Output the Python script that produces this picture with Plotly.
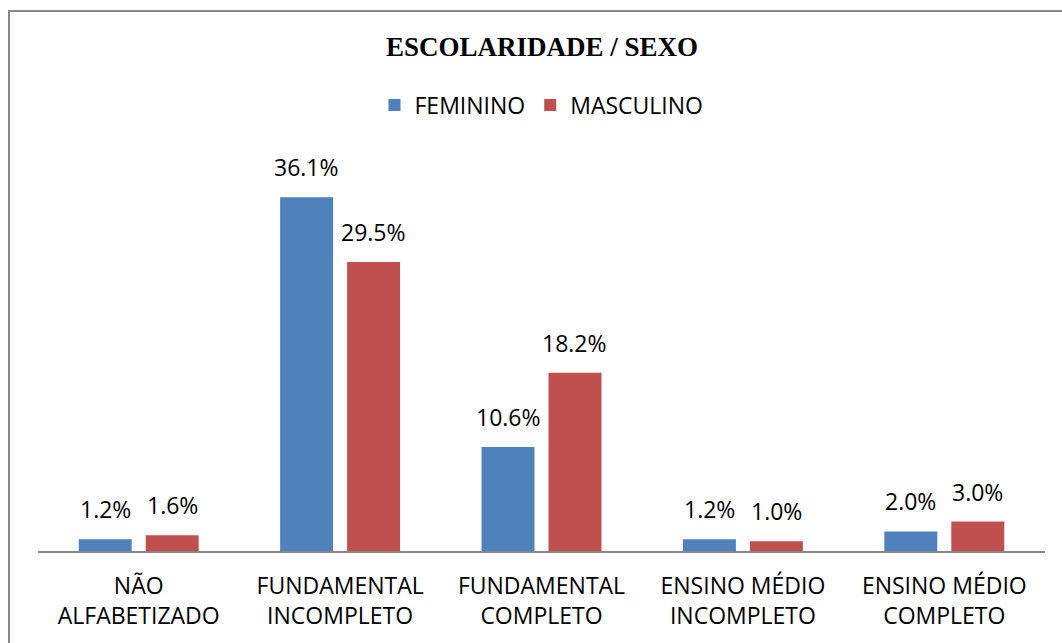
import plotly.graph_objects as go

categories = ["NÃO<br>ALFABETIZADO", "FUNDAMENTAL<br>INCOMPLETO", "FUNDAMENTAL<br>COMPLETO",
              "ENSINO MÉDIO<br>INCOMPLETO", "ENSINO MÉDIO<br>COMPLETO"]
feminino = [1.2, 36.1, 10.6, 1.2, 2.0]
masculino = [1.6, 29.5, 18.2, 1.0, 3.0]

W, H = 1062, 643
L, R, T, B = 38, 17, 159, 92
pw, ph = W - L - R, H - T - B
BARGAP, GROUPGAP = 0.335, 0.209
slot = (1 - BARGAP) * pw / len(categories) / 2

FONT = "Open Sans, Liberation Sans, sans-serif"

fig = go.Figure()
fig.add_trace(go.Bar(name="FEMININO", x=categories, y=feminino, marker_color="#4F81BD",
                     marker_line_width=0))
fig.add_trace(go.Bar(name="MASCULINO", x=categories, y=masculino, marker_color="#C0504D",
                     marker_line_width=0))

for vals, sign in ((feminino, -1), (masculino, 1)):
    for c, v in zip(categories, vals):
        fig.add_annotation(x=c, y=v, text=f"{v:.1f}%", showarrow=False, xref="x", yref="y",
                           xanchor="center", yanchor="bottom", xshift=sign * slot / 2, yshift=12,
                           font=dict(family=FONT, size=23, color="#000"))

fig.update_layout(
    width=W, height=H, margin=dict(l=L, r=R, t=T, b=B, autoexpand=False),
    paper_bgcolor="white", plot_bgcolor="white",
    font=dict(family=FONT, size=23, color="#000"),
    barmode="group", bargap=BARGAP, bargroupgap=GROUPGAP,
    title=dict(text="<b>ESCOLARIDADE / SEXO</b>", x=542 / W, xanchor="center", y=1 - 47 / H, yanchor="middle",
               font=dict(family="Liberation Serif, Times New Roman, serif", size=27, color="#000")),
    legend=dict(orientation="h", x=0.5, xanchor="center", y=(H - B - 105) / ph, yanchor="middle",
                font=dict(size=23), itemwidth=30, traceorder="normal"),
    xaxis=dict(showline=True, linecolor="#878787", linewidth=1.5, ticks="", showgrid=False,
               tickfont=dict(size=23), ticklabelstandoff=14),
    yaxis=dict(range=[0, 40], visible=False, showgrid=False, zeroline=False),
    showlegend=True,
)
fig.add_shape(type="rect", xref="paper", yref="paper",
              x0=(9 - L) / pw, x1=1.2, y0=-0.6, y1=(H - B - 11) / ph,
              line=dict(color="#888888", width=2), fillcolor="rgba(0,0,0,0)", layer="below")

fig.write_html("out.html", config={"displayModeBar": False},
               post_script="document.body.style.margin='0';")
